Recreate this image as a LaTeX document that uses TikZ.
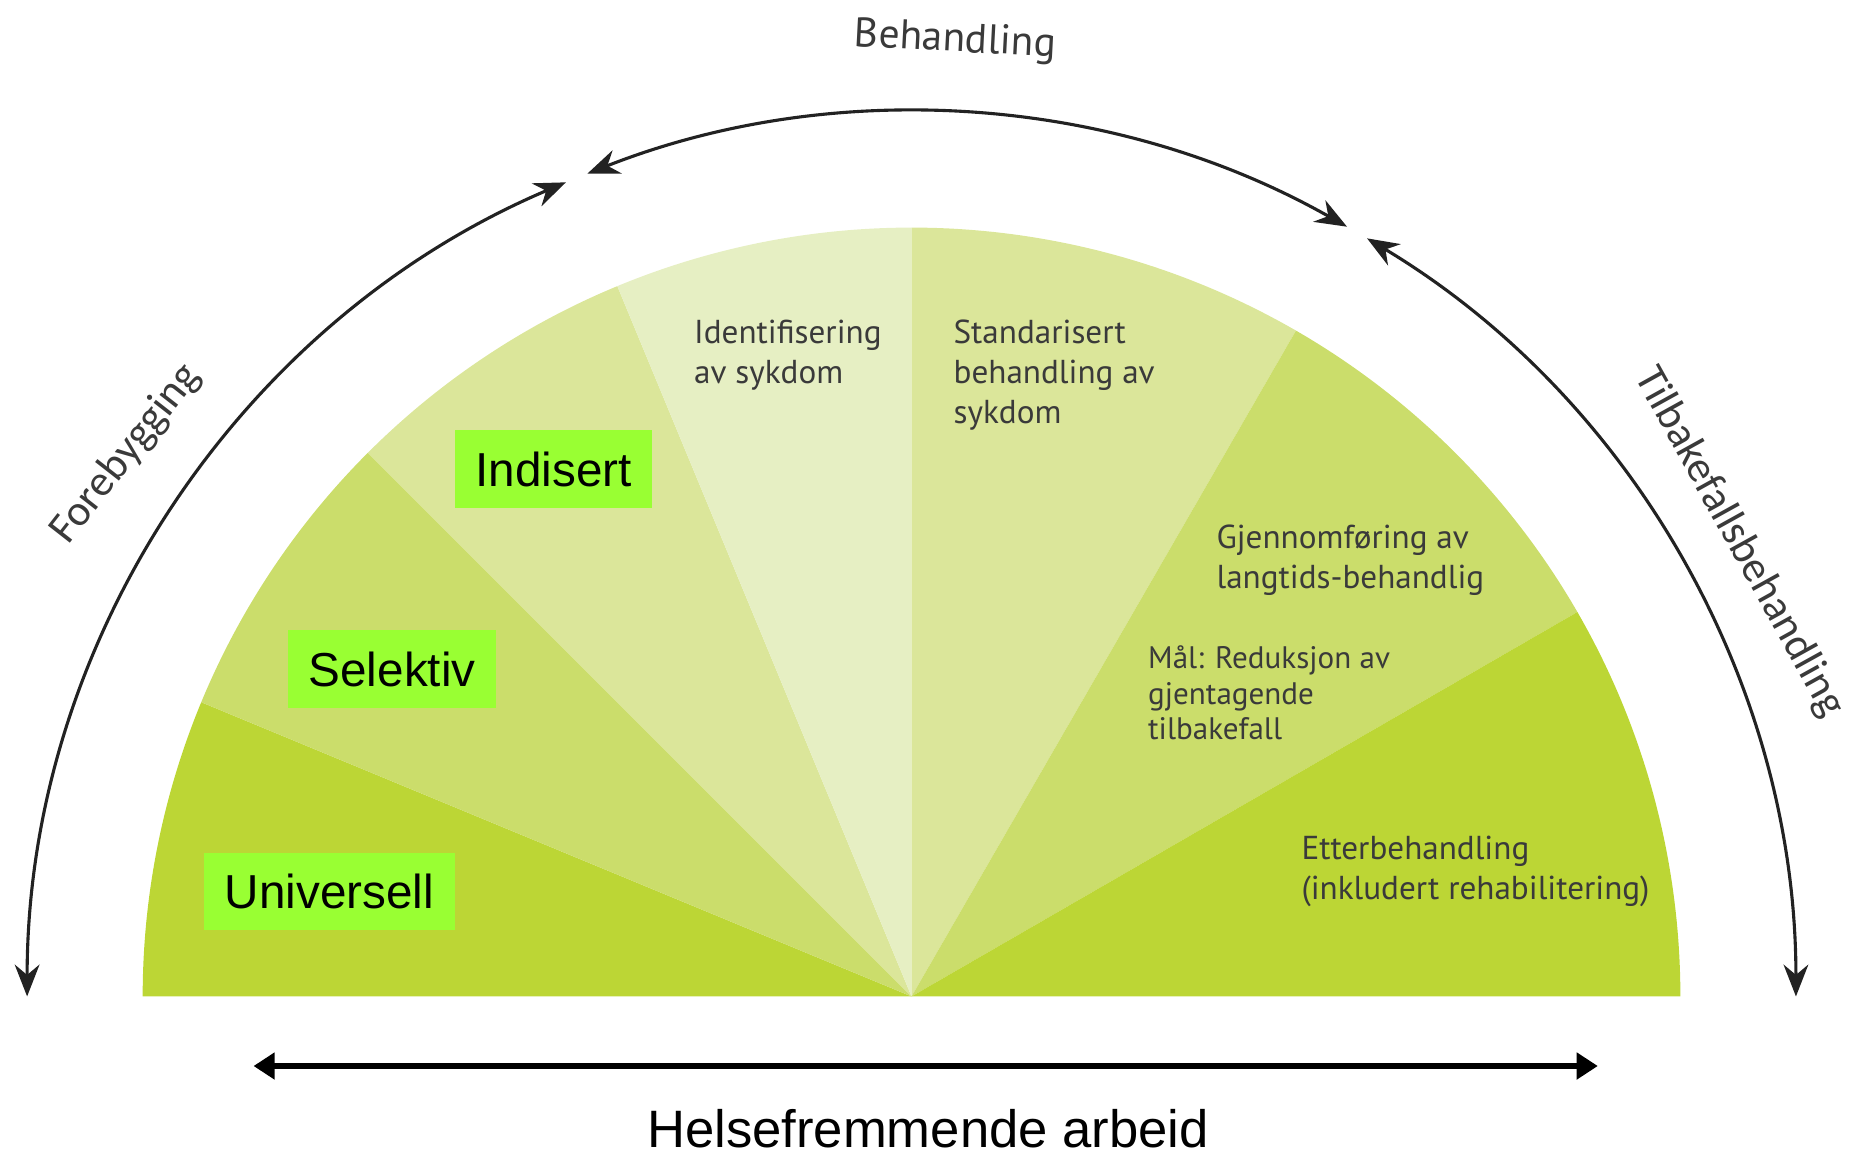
\documentclass[tikz,border=0pt]{standalone}
\usepackage{fontspec}
\setmainfont{Liberation Sans}
\newfontfamily\ptsans{PT Sans}
\newfontfamily\carlito{Carlito}
\usetikzlibrary{arrows.meta}
\definecolor{greenA}{HTML}{BCD635}
\definecolor{greenB}{HTML}{CBDD6B}
\definecolor{greenC}{HTML}{DBE69A}
\definecolor{greenD}{HTML}{E6EFC3}
\definecolor{boxgreen}{HTML}{99FF33}
\definecolor{txtgray}{HTML}{3A3A3A}
\definecolor{arcgray}{HTML}{222222}

\begin{document}
\begin{tikzpicture}[
  level/.style={fill=boxgreen, inner sep=0pt, minimum height=0.66cm, font=\fontsize{11.5}{13}\selectfont},
  sectortext/.style={anchor=base west, align=left, inner sep=0pt, text=txtgray, font=\ptsans\fontsize{8}{9.6}\selectfont},
  arclabel/.style={text=txtgray, inner sep=0pt, font=\carlito\fontsize{10.5}{12}\selectfont},
  phase/.style={draw=arcgray, line width=0.75pt, >={Stealth[length=0.27cm,width=0.21cm]}, <->}
]
\useasboundingbox (-7.73,-1.33) rectangle (7.95,8.45);

\foreach \a/\b/\c in {180/157.5/greenA, 157.5/135/greenB, 135/112.5/greenC, 112.5/90/greenD, 90/60/greenC, 60/30/greenB, 30/0/greenA}
  \fill[\c] (0,0) -- (\a:6.52) arc[start angle=\a, end angle=\b, radius=6.52] -- cycle;

\draw[phase] (180:7.5) arc[start angle=180, end angle=113, radius=7.5];
\draw[phase] (111.5:7.5) arc[start angle=111.5, end angle=60.5, radius=7.5];
\draw[phase] (59:7.5) arc[start angle=59, end angle=0, radius=7.5];

\node[arclabel, rotate=52] (fore) at (-6.66,4.60) {Forebygging};
\node[arclabel, rotate=-61] (tilbake) at (7.02,3.85) {Tilbakefallsbehandling};
\node[text=txtgray, inner sep=0pt, font=\ptsans\fontsize{10}{12}\selectfont, rotate=-3] (beh) at (0.37,8.10) {Behandling};

\node[level, minimum width=1.67cm] (indisert) at (-3.035,4.47) {Indisert};
\node[level, minimum width=1.77cm] (selektiv) at (-4.405,2.775) {Selektiv};
\node[level, minimum width=2.13cm] (universell) at (-4.935,0.89) {Universell};

\node[sectortext] (ident) at (-1.85,5.20) {Identifisering\\av sykdom};
\node[sectortext] (standard) at (0.35,4.86) {Standarisert\\behandling av\\sykdom};
\node[sectortext] (gjennom) at (2.58,3.46) {Gjennomføring av\\langtids-behandlig};
\node[sectortext, font=\ptsans\fontsize{7.5}{8.5}\selectfont] (maal) at (2.00,2.18) {Mål: Reduksjon av\\gjentagende\\tilbakefall};
\node[sectortext] (etter) at (3.30,0.82) {Etterbehandling\\(inkludert rehabilitering)};

\coordinate (helse left) at (-5.58,-0.59);
\coordinate (helse right) at (5.82,-0.59);
\draw[line width=1.4pt, {Triangle[length=0.18cm,width=0.22cm]}-{Triangle[length=0.18cm,width=0.22cm]}] (helse left) -- (helse right);
\node[anchor=base, font=\fontsize{12.7}{15}\selectfont] (helse) at (0.14,-1.28) {Helsefremmende arbeid};
\end{tikzpicture}
\end{document}
